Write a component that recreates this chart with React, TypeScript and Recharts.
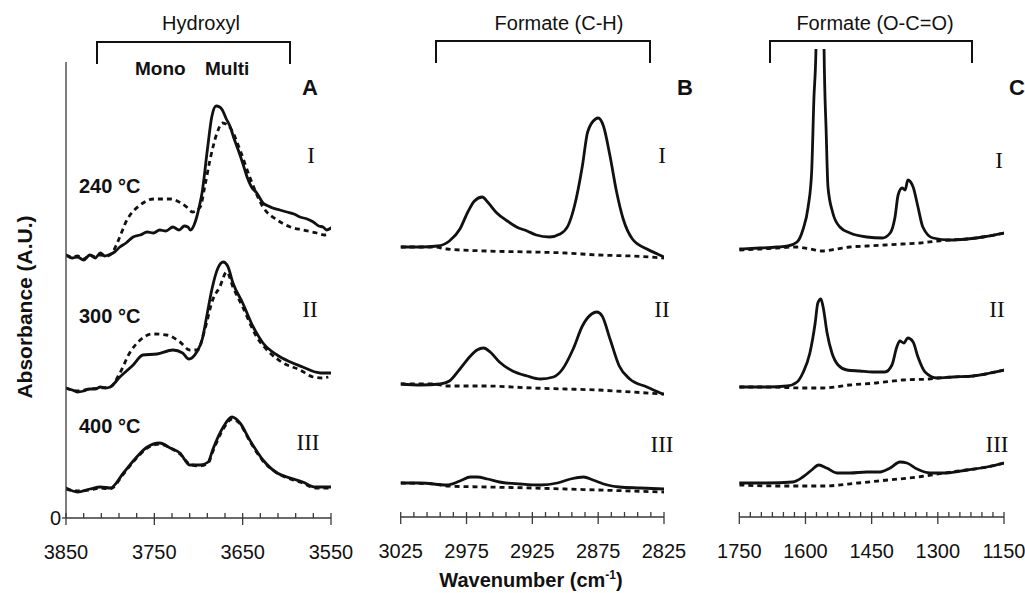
import React from 'react';
import { LineChart, Line, XAxis, YAxis } from 'recharts';

// ---------- Panel A : Hydroxyl ----------
const aTicks = [3850, 3830, 3810, 3790, 3770, 3750, 3730, 3710, 3690, 3670, 3650, 3630, 3610, 3590, 3570, 3550];
const aMajor = [3850, 3750, 3650, 3550];

const aWn1 = [3850, 3843, 3837, 3830, 3823, 3817, 3811, 3806, 3802, 3795, 3789, 3782, 3774, 3766, 3758, 3751, 3744, 3737, 3729, 3722, 3716, 3712, 3709, 3705, 3702, 3699, 3696, 3690, 3685, 3680, 3676, 3673, 3669, 3664, 3660, 3655, 3650, 3645, 3640, 3634, 3627, 3621, 3616, 3608, 3600, 3592, 3585, 3577, 3570, 3564, 3559, 3555, 3550];
const aSolid1 = [2.63, 2.6, 2.61, 2.58, 2.63, 2.6, 2.65, 2.62, 2.63, 2.66, 2.71, 2.75, 2.81, 2.83, 2.86, 2.85, 2.88, 2.87, 2.91, 2.88, 2.92, 2.91, 2.88, 2.93, 3.01, 3.12, 3.25, 3.68, 4.01, 4.12, 4.11, 4.08, 4.0, 3.91, 3.8, 3.68, 3.55, 3.41, 3.31, 3.25, 3.15, 3.12, 3.1, 3.08, 3.06, 3.04, 3.01, 2.99, 2.96, 2.92, 2.91, 2.88, 2.9];
const aWn1d = [3850, 3843, 3837, 3830, 3823, 3817, 3811, 3803, 3797, 3792, 3781, 3766, 3751, 3732, 3720, 3712, 3707, 3698, 3693, 3687, 3679, 3673, 3664, 3653, 3642, 3627, 3611, 3596, 3582, 3566, 3557, 3552];
const aDash1 = [2.63, 2.61, 2.62, 2.59, 2.63, 2.61, 2.63, 2.62, 2.66, 2.75, 2.98, 3.13, 3.19, 3.19, 3.15, 3.1, 3.06, 3.11, 3.31, 3.58, 3.85, 3.95, 3.9, 3.68, 3.41, 3.11, 2.98, 2.91, 2.88, 2.85, 2.83, 2.84];

const aWn2 = [3850, 3843, 3837, 3830, 3823, 3817, 3811, 3805, 3800, 3789, 3774, 3763, 3747, 3729, 3718, 3711, 3702, 3696, 3690, 3685, 3678, 3672, 3667, 3661, 3650, 3638, 3627, 3611, 3596, 3582, 3568, 3562, 3550];
const aSolid2 = [1.3, 1.28, 1.26, 1.27, 1.29, 1.29, 1.31, 1.3, 1.31, 1.41, 1.53, 1.63, 1.64, 1.68, 1.65, 1.59, 1.66, 1.78, 2.05, 2.28, 2.5, 2.56, 2.52, 2.35, 2.15, 1.91, 1.75, 1.63, 1.56, 1.51, 1.46, 1.45, 1.45];
const aWn2d = [3850, 3837, 3823, 3811, 3800, 3789, 3778, 3766, 3752, 3736, 3721, 3710, 3701, 3693, 3684, 3676, 3668, 3661, 3650, 3634, 3619, 3604, 3585, 3570, 3559, 3553];
const aDash2 = [1.3, 1.27, 1.29, 1.3, 1.31, 1.45, 1.65, 1.78, 1.84, 1.83, 1.76, 1.68, 1.68, 1.88, 2.18, 2.31, 2.46, 2.31, 2.11, 1.81, 1.65, 1.55, 1.48, 1.41, 1.4, 1.41];

const aWn3 = [3850, 3837, 3823, 3811, 3800, 3785, 3770, 3758, 3744, 3732, 3721, 3710, 3698, 3689, 3684, 3672, 3662, 3653, 3642, 3627, 3611, 3596, 3582, 3568, 3559, 3550];
const aSolid3 = [0.3, 0.26, 0.29, 0.31, 0.3, 0.45, 0.61, 0.71, 0.75, 0.7, 0.65, 0.53, 0.53, 0.56, 0.68, 0.91, 1.01, 0.95, 0.78, 0.58, 0.45, 0.4, 0.36, 0.31, 0.31, 0.31];
const aDash3 = [0.29, 0.27, 0.28, 0.3, 0.29, 0.44, 0.6, 0.7, 0.74, 0.7, 0.64, 0.54, 0.52, 0.55, 0.66, 0.89, 0.99, 0.94, 0.77, 0.57, 0.45, 0.39, 0.35, 0.3, 0.3, 0.3];

// ---------- Panel B : Formate (C-H) ----------
const bTicks = [3025, 3015, 3005, 2995, 2985, 2975, 2965, 2955, 2945, 2935, 2925, 2915, 2905, 2895, 2885, 2875, 2865, 2855, 2845, 2835, 2825];
const bMajor = [3025, 2975, 2925, 2875, 2825];

const bWn1 = [3025, 3010, 2997, 2988, 2980, 2974, 2969, 2963, 2959, 2952, 2944, 2937, 2929, 2922, 2912, 2904, 2898, 2893, 2887, 2883, 2877, 2875, 2871, 2866, 2861, 2856, 2849, 2838, 2830, 2825];
const bSolid1 = [2.7, 2.7, 2.71, 2.76, 2.88, 3.05, 3.16, 3.2, 3.15, 3.04, 2.96, 2.9, 2.86, 2.82, 2.8, 2.83, 2.91, 3.11, 3.51, 3.85, 3.98, 3.99, 3.91, 3.61, 3.25, 2.98, 2.78, 2.68, 2.63, 2.6];
const bWnD = [3025, 3000, 2990, 2960, 2925, 2900, 2875, 2850, 2825];
const bDash1 = [2.7, 2.7, 2.68, 2.66, 2.65, 2.64, 2.62, 2.61, 2.59];

const bWn2 = [3025, 3010, 2995, 2988, 2980, 2972, 2967, 2962, 2957, 2950, 2940, 2929, 2919, 2909, 2902, 2894, 2887, 2880, 2876, 2872, 2866, 2859, 2851, 2838, 2826];
const bSolid2 = [1.33, 1.32, 1.33, 1.36, 1.48, 1.61, 1.67, 1.69, 1.65, 1.55, 1.46, 1.41, 1.38, 1.4, 1.48, 1.68, 1.91, 2.03, 2.05, 2.01, 1.78, 1.51, 1.38, 1.3, 1.23];
const bDash2 = [1.33, 1.33, 1.31, 1.31, 1.29, 1.28, 1.27, 1.25, 1.23];

const bWn3 = [3025, 3010, 2990, 2980, 2972, 2967, 2959, 2950, 2934, 2919, 2906, 2896, 2886, 2879, 2868, 2859, 2843, 2825];
const bSolid3 = [0.34, 0.34, 0.32, 0.36, 0.4, 0.4, 0.38, 0.35, 0.33, 0.32, 0.34, 0.38, 0.4, 0.37, 0.32, 0.3, 0.29, 0.28];
const bDash3 = [0.34, 0.33, 0.31, 0.3, 0.29, 0.28, 0.27, 0.26, 0.25];

// ---------- Panel C : Formate (O-C=O) ----------
const cTicks = [1750, 1725, 1700, 1675, 1650, 1625, 1600, 1575, 1550, 1525, 1500, 1475, 1450, 1425, 1400, 1375, 1350, 1325, 1300, 1275, 1250, 1225, 1200, 1175, 1150];
const cMajor = [1750, 1600, 1450, 1300, 1150];

const cWn1 = [1750, 1703, 1665, 1640, 1619, 1606, 1594, 1586, 1581, 1576, 1567, 1558, 1553, 1549, 1538, 1522, 1499, 1461, 1426, 1408, 1397, 1390, 1381, 1374, 1368, 1356, 1345, 1334, 1311, 1273, 1234, 1198, 1150];
const cSolid1 = [2.68, 2.69, 2.7, 2.71, 2.75, 2.87, 3.1, 3.45, 4.17, 4.72, 12.0, 4.72, 3.84, 3.3, 3.04, 2.9, 2.84, 2.8, 2.79, 2.84, 3.0, 3.22, 3.29, 3.27, 3.37, 3.3, 3.1, 2.9, 2.79, 2.77, 2.78, 2.8, 2.84];
const cWn1d = [1750, 1703, 1665, 1620, 1590, 1560, 1530, 1500, 1460, 1420, 1380, 1340, 1300, 1273, 1234, 1198, 1150];
const cDash1 = [2.67, 2.68, 2.69, 2.7, 2.68, 2.66, 2.68, 2.7, 2.71, 2.72, 2.73, 2.74, 2.76, 2.77, 2.78, 2.8, 2.84];

const cWn2 = [1750, 1688, 1642, 1619, 1606, 1590, 1578, 1572, 1565, 1560, 1551, 1540, 1526, 1506, 1477, 1447, 1420, 1404, 1393, 1386, 1377, 1368, 1356, 1345, 1329, 1302, 1266, 1220, 1181, 1150];
const cSolid2 = [1.3, 1.3, 1.31, 1.35, 1.44, 1.64, 1.94, 2.14, 2.18, 2.1, 1.84, 1.64, 1.52, 1.47, 1.46, 1.45, 1.45, 1.52, 1.7, 1.76, 1.74, 1.79, 1.75, 1.6, 1.45, 1.39, 1.4, 1.41, 1.44, 1.47];
const cWn2d = [1750, 1690, 1600, 1560, 1500, 1440, 1380, 1320, 1300, 1266, 1220, 1181, 1150];
const cDash2 = [1.3, 1.3, 1.29, 1.29, 1.32, 1.34, 1.37, 1.38, 1.39, 1.4, 1.41, 1.44, 1.47];

const cWn3 = [1750, 1688, 1629, 1606, 1586, 1570, 1552, 1529, 1499, 1461, 1431, 1408, 1386, 1370, 1347, 1318, 1280, 1234, 1189, 1150];
const cSolid3 = [0.34, 0.34, 0.35, 0.4, 0.47, 0.52, 0.49, 0.44, 0.44, 0.45, 0.45, 0.49, 0.55, 0.54, 0.48, 0.44, 0.44, 0.47, 0.5, 0.54];
const cWn3d = [1750, 1665, 1560, 1480, 1413, 1345, 1286, 1234, 1189, 1150];
const cDash3 = [0.32, 0.31, 0.31, 0.34, 0.37, 0.4, 0.44, 0.47, 0.5, 0.54];

// ---------- helpers ----------
const pts = (xs: number[], ys: number[]) => xs.map((x, i) => ({ x, y: ys[i] }));

const SANS = '"Liberation Sans", Arial, Helvetica, sans-serif';
const SERIF = '"Liberation Serif", "Times New Roman", serif';
const INK = '#111';
const AXIS = '#3a3a3a';

type Series = { data: { x: number; y: number }[]; dashed: boolean };

const AxisTick = (props: any) => {
  const { x, y, payload, majors } = props;
  const major = majors.includes(payload.value);
  return (
    <g>
      <line x1={x} x2={x} y1={y - 5} y2={major ? y + 7 : y} stroke={AXIS} strokeWidth={1.3} />
      {major && (
        <text x={x} y={y + 41} textAnchor="middle" fontSize={20} fontFamily={SANS} fill={INK}>
          {payload.value}
        </text>
      )}
    </g>
  );
};

function Panel(props: {
  left: number;
  width: number;
  mLeft: number;
  mRight: number;
  top: number;
  axisY: number;
  domainX: [number, number];
  ticks: number[];
  majors: number[];
  series: Series[];
  showY: boolean;
}) {
  const { left, width, mLeft, mRight, top, axisY, domainX, ticks, majors, series, showY } = props;
  const xAxisH = 60;
  const bottom = 593 - axisY - xAxisH;
  const yMax = (axisY - top) / 100;
  return (
    <div style={{ position: 'absolute', left, top: 0 }}>
      <LineChart width={width} height={593} margin={{ left: mLeft, right: mRight, top, bottom }}>
        <XAxis
          type="number"
          dataKey="x"
          domain={domainX}
          reversed
          allowDataOverflow
          ticks={ticks}
          interval={0}
          height={xAxisH}
          tickLine={false}
          tickSize={0}
          tickMargin={0}
          axisLine={{ stroke: AXIS, strokeWidth: 1.3 }}
          tick={(p: any) => <AxisTick {...p} majors={majors} />}
        />
        {showY ? (
          <YAxis
            type="number"
            width={20}
            domain={[0, yMax]}
            allowDataOverflow
            ticks={[0]}
            tickSize={4}
            tickMargin={1}
            axisLine={{ stroke: AXIS, strokeWidth: 1.3 }}
            tickLine={{ stroke: AXIS, strokeWidth: 1.3 }}
            tick={{ fontSize: 20, fill: INK, fontFamily: SANS }}
          />
        ) : (
          <YAxis type="number" hide domain={[0, yMax]} allowDataOverflow />
        )}
        {series.map((s, i) => (
          <Line
            key={i}
            data={s.data}
            dataKey="y"
            type="monotone"
            dot={false}
            activeDot={false}
            stroke={INK}
            strokeWidth={2.8}
            strokeDasharray={s.dashed ? '5 4' : undefined}
            strokeLinecap={s.dashed ? 'butt' : 'round'}
            strokeLinejoin="round"
            isAnimationActive={false}
          />
        ))}
      </LineChart>
    </div>
  );
}

const seriesA: Series[] = [
  { data: pts(aWn1d, aDash1), dashed: true },
  { data: pts(aWn1, aSolid1), dashed: false },
  { data: pts(aWn2d, aDash2), dashed: true },
  { data: pts(aWn2, aSolid2), dashed: false },
  { data: pts(aWn3, aSolid3), dashed: false },
  { data: pts(aWn3, aDash3), dashed: true },
];
const seriesB: Series[] = [
  { data: pts(bWnD, bDash1), dashed: true },
  { data: pts(bWn1, bSolid1), dashed: false },
  { data: pts(bWnD, bDash2), dashed: true },
  { data: pts(bWn2, bSolid2), dashed: false },
  { data: pts(bWnD, bDash3), dashed: true },
  { data: pts(bWn3, bSolid3), dashed: false },
];
const seriesC: Series[] = [
  { data: pts(cWn1d, cDash1), dashed: true },
  { data: pts(cWn1, cSolid1), dashed: false },
  { data: pts(cWn2d, cDash2), dashed: true },
  { data: pts(cWn2, cSolid2), dashed: false },
  { data: pts(cWn3d, cDash3), dashed: true },
  { data: pts(cWn3, cSolid3), dashed: false },
];

const Bracket = ({ x1, x2, y, y2 }: { x1: number; x2: number; y: number; y2: number }) => (
  <path d={`M${x1},${y2} L${x1},${y} L${x2},${y} L${x2},${y2}`} fill="none" stroke={INK} strokeWidth={2} />
);

export default function App() {
  return (
    <div
      style={{
        position: 'absolute',
        left: 0,
        top: 0,
        width: 1025,
        height: 593,
        background: '#fff',
        overflow: 'hidden',
      }}
    >
      <Panel left={0} width={371} mLeft={46} mRight={40} top={62} axisY={518} domainX={[3550, 3850]} ticks={aTicks} majors={aMajor} series={seriesA} showY />
      <Panel left={360} width={344} mLeft={40.7} mRight={40} top={49} axisY={517} domainX={[2825, 3025]} ticks={bTicks} majors={bMajor} series={seriesB} showY={false} />
      <Panel left={699} width={326} mLeft={40.3} mRight={21} top={49} axisY={517} domainX={[1150, 1750]} ticks={cTicks} majors={cMajor} series={seriesC} showY={false} />

      <svg width={1025} height={593} style={{ position: 'absolute', left: 0, top: 0, pointerEvents: 'none' }}>
        {/* group headers */}
        <text x={201} y={30} textAnchor="middle" fontSize={20} fontFamily={SANS} fill={INK}>Hydroxyl</text>
        <Bracket x1={97} x2={290} y={42} y2={64} />
        <text x={559} y={30} textAnchor="middle" fontSize={20} fontFamily={SANS} fill={INK}>Formate (C-H)</text>
        <Bracket x1={436} x2={650} y={41} y2={63} />
        <text x={875} y={30} textAnchor="middle" fontSize={20} fontFamily={SANS} fill={INK}>Formate (O-C=O)</text>
        <Bracket x1={770} x2={972} y={41} y2={63} />

        <text x={135} y={75} fontSize={19} fontWeight="bold" fontFamily={SANS} fill={INK}>Mono</text>
        <text x={205} y={75} fontSize={19} fontWeight="bold" fontFamily={SANS} fill={INK}>Multi</text>

        {/* panel letters */}
        <text x={310} y={95} textAnchor="middle" fontSize={22} fontWeight="bold" fontFamily={SANS} fill={INK}>A</text>
        <text x={685} y={95} textAnchor="middle" fontSize={22} fontWeight="bold" fontFamily={SANS} fill={INK}>B</text>
        <text x={1009} y={95} fontSize={22} fontWeight="bold" fontFamily={SANS} fill={INK}>C</text>

        {/* temperatures */}
        <text x={79} y={193} fontSize={20} fontWeight="bold" fontFamily={SANS} fill={INK}>240 °C</text>
        <text x={79} y={323} fontSize={20} fontWeight="bold" fontFamily={SANS} fill={INK}>300 °C</text>
        <text x={79} y={433} fontSize={20} fontWeight="bold" fontFamily={SANS} fill={INK}>400 °C</text>

        {/* roman numerals */}
        <text x={311} y={163} textAnchor="middle" fontSize={23} fontFamily={SERIF} fill={INK}>I</text>
        <text x={310} y={317} textAnchor="middle" fontSize={23} fontFamily={SERIF} fill={INK}>II</text>
        <text x={308} y={450} textAnchor="middle" fontSize={23} fontFamily={SERIF} fill={INK}>III</text>
        <text x={662} y={163} textAnchor="middle" fontSize={23} fontFamily={SERIF} fill={INK}>I</text>
        <text x={662} y={317} textAnchor="middle" fontSize={23} fontFamily={SERIF} fill={INK}>II</text>
        <text x={662} y={452} textAnchor="middle" fontSize={23} fontFamily={SERIF} fill={INK}>III</text>
        <text x={999} y={168} textAnchor="middle" fontSize={23} fontFamily={SERIF} fill={INK}>I</text>
        <text x={997} y={317} textAnchor="middle" fontSize={23} fontFamily={SERIF} fill={INK}>II</text>
        <text x={997} y={452} textAnchor="middle" fontSize={23} fontFamily={SERIF} fill={INK}>III</text>

        {/* axis titles */}
        <text
          x={24}
          y={307}
          transform="rotate(-90 24 307)"
          textAnchor="middle"
          dominantBaseline="central"
          fontSize={21}
          fontWeight="bold"
          fontFamily={SANS}
          fill={INK}
        >
          Absorbance (A.U.)
        </text>
        <text x={531} y={587} textAnchor="middle" fontSize={20} fontWeight="bold" fontFamily={SANS} fill={INK}>
          Wavenumber (cm
          <tspan dy={-8} fontSize={12}>-1</tspan>
          <tspan dy={8}>)</tspan>
        </text>
      </svg>
    </div>
  );
}
